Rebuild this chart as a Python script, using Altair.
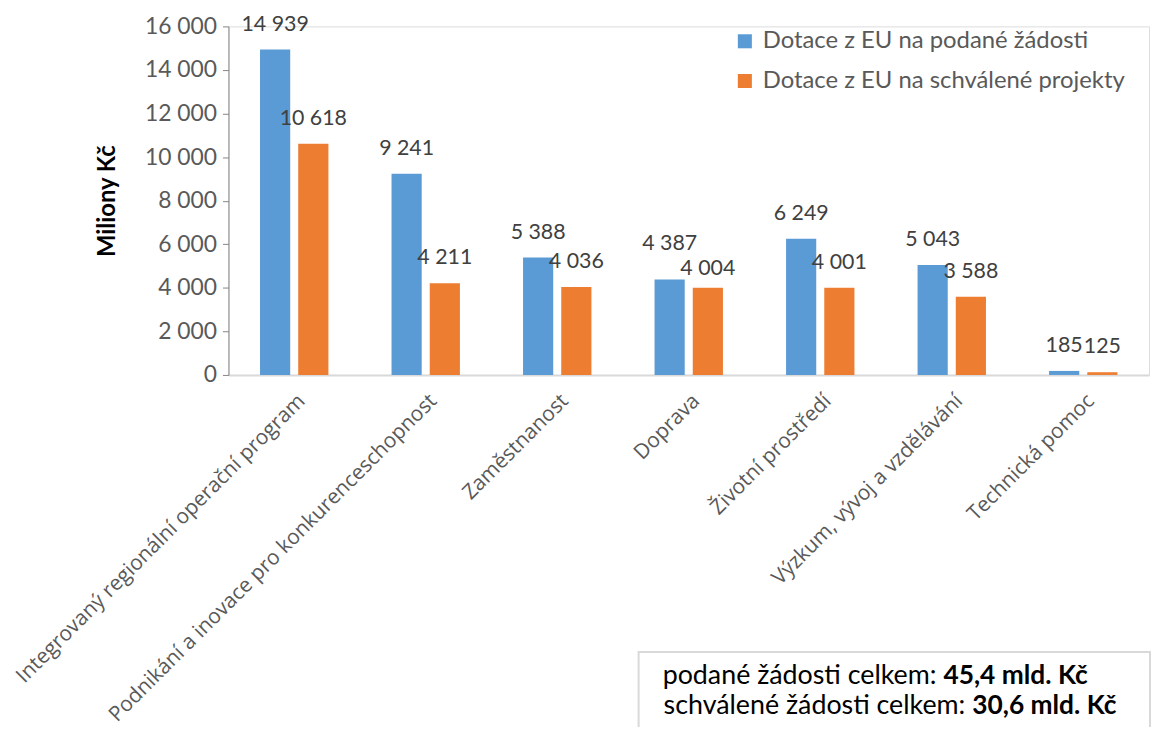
import altair as alt
import pandas as pd

categories = [
    "Integrovaný regionální operační program",
    "Podnikání a inovace pro konkurenceschopnost",
    "Zaměstnanost",
    "Doprava",
    "Životní prostředí",
    "Výzkum, vývoj a vzdělávání",
    "Technická pomoc",
]
series_names = ["Dotace z EU na podané žádosti", "Dotace z EU na schválené projekty"]
podane = [14939, 9241, 5388, 4387, 6249, 5043, 185]
schvalene = [10618, 4211, 4036, 4004, 4001, 3588, 125]
colors = ["#5B9BD5", "#ED7D31"]
y_ticks = [0, 2000, 4000, 6000, 8000, 10000, 12000, 14000, 16000]
box_labels = ["podané žádosti celkem:", "schválené žádosti celkem:"]
box_totals = ["45,4 mld. Kč", "30,6 mld. Kč"]

rows = []
for i, c in enumerate(categories):
    rows.append({"kat": c, "serie": series_names[0], "hodnota": podane[i]})
    rows.append({"kat": c, "serie": series_names[1], "hodnota": schvalene[i]})
df = pd.DataFrame(rows)
one = pd.DataFrame({"k": [0]})

x_enc = alt.X(
    "kat:N",
    sort=categories,
    title=None,
    scale=alt.Scale(paddingInner=0.48, paddingOuter=0.24),
    axis=alt.Axis(
        labelAngle=-45,
        labelFont="Open Sans",
        labelFontSize=21,
        labelColor="#595959",
        labelPadding=15,
        ticks=False,
        domainColor="#D9D9D9",
        domainWidth=2,
        labelLimit=700,
    ),
)
xoff = alt.XOffset("serie:N", sort=series_names, scale=alt.Scale(paddingInner=0.21))
y_enc = alt.Y(
    "hodnota:Q",
    scale=alt.Scale(domain=[0, 16000], nice=False),
    title="Miliony Kč",
    axis=alt.Axis(
        values=y_ticks,
        format=",d",
        grid=False,
        labelFont="Lato",
        labelFontSize=23,
        labelColor="#595959",
        labelPadding=6,
        tickSize=6,
        tickColor="#868686",
        domainColor="#868686",
        titleFont="Lato",
        titleFontSize=24,
        titleFontWeight="bold",
        titleColor="#000000",
        titlePadding=25,
    ),
)
color_enc = alt.Color(
    "serie:N",
    sort=series_names,
    scale=alt.Scale(domain=series_names, range=colors),
    legend=alt.Legend(
        title=None,
        orient="none",
        legendX=508,
        legendY=3,
        symbolType="square",
        symbolSize=200,
        symbolStrokeWidth=0,
        labelFont="Lato",
        labelFontSize=24,
        labelColor="#595959",
        rowPadding=16,
        labelOffset=6,
        labelLimit=500,
    ),
)

base = alt.Chart(df)
bars = base.mark_bar().encode(x=x_enc, xOffset=xoff, y=y_enc, color=color_enc)

lab_enc = dict(
    x=alt.X("kat:N", sort=categories),
    xOffset=alt.XOffset("serie:N", sort=series_names),
    y="hodnota:Q",
    text=alt.Text("hodnota:Q", format=",d"),
)
lab_style = dict(baseline="bottom", font="Lato", fontSize=21.5, color="#404040")
labels_main = base.transform_filter(
    alt.datum.kat != categories[3]
).mark_text(dy=-14, **lab_style).encode(**lab_enc)
labels_dop_a = base.transform_filter(
    (alt.datum.kat == categories[3]) & (alt.datum.serie == series_names[0])
).mark_text(dy=-25, **lab_style).encode(**lab_enc)
labels_dop_b = base.transform_filter(
    (alt.datum.kat == categories[3]) & (alt.datum.serie == series_names[1])
).mark_text(dy=-8, **lab_style).encode(**lab_enc)

box = alt.Chart(one).mark_rect(
    fill="white", stroke="#D9D9D9", strokeWidth=2
).encode(
    x=alt.value(413), x2=alt.value(928), y=alt.value(630), y2=alt.value(730)
)
t_reg = dict(font="Lato", color="#000000", align="right", baseline="alphabetic", fontSize=27)
t_bold = dict(font="Lato", color="#000000", align="left", baseline="alphabetic", fontSize=26.5, fontWeight="bold")
t1 = alt.Chart(one).mark_text(text=box_labels[0], **t_reg).encode(x=alt.value(713), y=alt.value(662))
t2 = alt.Chart(one).mark_text(text=box_labels[1], **t_reg).encode(x=alt.value(742), y=alt.value(692))
t3 = alt.Chart(one).mark_text(text=box_totals[0], **t_bold).encode(x=alt.value(720), y=alt.value(662))
t4 = alt.Chart(one).mark_text(text=box_totals[1], **t_bold).encode(x=alt.value(749), y=alt.value(692))

chart = (
    alt.layer(bars, labels_main, labels_dop_a, labels_dop_b, box, t1, t2, t3, t4)
    .properties(
        width=927,
        height=351,
        autosize=alt.AutoSizeParams(type="none"),
        padding={"left": 222, "top": 16, "right": 4, "bottom": 352},
    )
    .configure_view(stroke=None)
    .configure(
        locale=alt.Locale(
            number=alt.NumberLocale(decimal=",", thousands="\u00a0", grouping=[3], currency=["", " Kč"])
        )
    )
)

chart.save("out.html", embed_options={"renderer": "svg", "actions": False})
